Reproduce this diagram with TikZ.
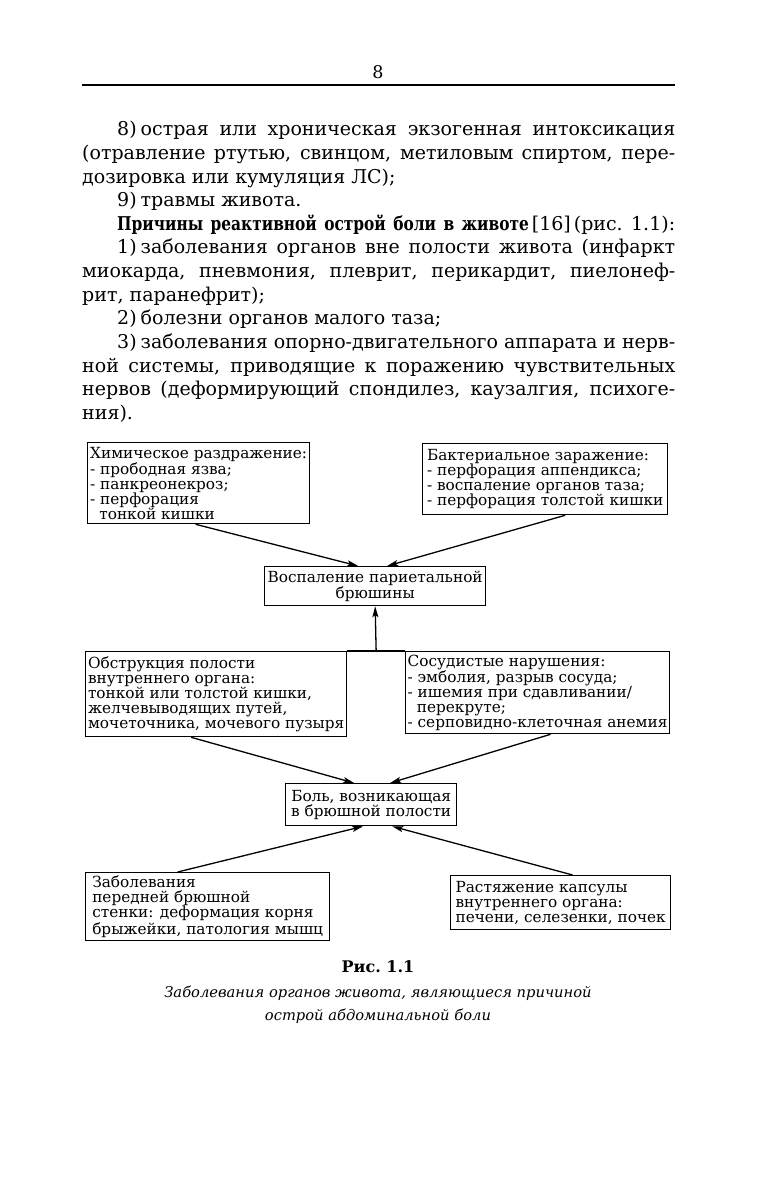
\documentclass[tikz,border=0pt]{standalone}
\usepackage{fontspec}
\setmainfont{DejaVu Serif}
\newfontfamily\condserif{DejaVu Serif Condensed}[FakeStretch=0.9]
\usetikzlibrary{arrows.meta,calc}
\tikzset{
  bx/.style={draw, line width=1.3pt, inner xsep=2pt, inner ysep=2pt, anchor=north west,
    font=\fontsize{15.3}{15}\selectfont, align=left},
  bxc/.style={bx, align=center},
  body/.style={anchor=base west, inner sep=0pt, font=\fontsize{19}{24}\selectfont},
  arr/.style={line width=1.3pt, -{Stealth[length=11pt,width=6pt,inset=2.5pt]}},
  ln/.style={line width=1.3pt}
}
\newcommand{\fullline}[1]{\makebox[593pt][s]{#1}}
\newcommand{\indline}[1]{\makebox[558pt][s]{#1}}
\begin{document}
\begin{tikzpicture}[x=1pt,y=-1pt]
\fill[white] (0,0) rectangle (757,1182);
\useasboundingbox (0,0) rectangle (757,1182);
% header
\node[anchor=base, inner sep=0pt, font=\fontsize{17.5}{20}\selectfont] (pg) at (378,78.5) {8};
\coordinate (rl) at (82,85);
\coordinate (rr) at (675,85);
\draw[line width=1.2pt] (rl) -- (rr);
% body text
\node[body] (t1) at (117,136) {\indline{8)\hspace{4pt}острая или хроническая экзогенная интоксикация}};
\node[body] (t2) at (82,159.6) {\fullline{(отравление ртутью, свинцом, метиловым спиртом, пере-}};
\node[body] (t3) at (82,183.2) {дозировка или кумуляция ЛС);};
\node[body] (t4) at (117,206.8) {9)\hspace{4pt}травмы живота.};
\node[body] (t5) at (117,230.4) {\indline{{\condserif\bfseries Причины реактивной острой боли в животе}\hspace{3pt}[16]\hspace{3pt}(рис.~1.1):}};
\node[body] (t6) at (117,254) {\indline{1)\hspace{4pt}заболевания органов вне полости живота (инфаркт}};
\node[body] (t7) at (82,277.6) {\fullline{миокарда, пневмония, плеврит, перикардит, пиелонеф-}};
\node[body] (t8) at (82,301.2) {рит, паранефрит);};
\node[body] (t9) at (117,324.8) {2)\hspace{4pt}болезни органов малого таза;};
\node[body] (t10) at (117,348.4) {\indline{3)\hspace{4pt}заболевания опорно-двигательного аппарата и нерв-}};
\node[body] (t11) at (82,372) {\fullline{ной системы, приводящие к поражению чувствительных}};
\node[body] (t12) at (82,395.6) {\fullline{нервов (деформирующий спондилез, каузалгия, психоге-}};
\node[body] (t13) at (82,419.2) {ния).};
% boxes
\node[bx, minimum width=222pt, minimum height=81pt] (b1) at (87,442)
  {Химическое раздражение:\\- прободная язва;\\- панкреонекроз;\\- перфорация\\\hspace*{0.6em}тонкой кишки};
\node[bx, minimum width=245pt, minimum height=71pt] (b2) at (422,443)
  {Бактериальное заражение:\\- перфорация аппендикса;\\- воспаление органов таза;\\- перфорация толстой кишки};
\node[bxc, minimum width=221pt, minimum height=39pt] (b3) at (264,566)
  {Воспаление париетальной\\брюшины};
\node[bx, minimum width=261pt, minimum height=85pt] (b4) at (85,651)
  {Обструкция полости\\внутреннего органа:\\тонкой или толстой кишки,\\желчевыводящих путей,\\мочеточника, мочевого пузыря};
\node[bx, minimum width=263pt, minimum height=82pt] (b5) at (405,651)
  {Сосудистые нарушения:\\- эмболия, разрыв сосуда;\\- ишемия при сдавливании/\\\hspace*{0.6em}перекруте;\\- серповидно-клеточная анемия};
\node[bxc, minimum width=171pt, minimum height=42pt] (b6) at (285,783)
  {Боль, возникающая\\в брюшной полости};
\node[bx, minimum width=244pt, minimum height=68pt] (b7) at (85,872)
  {Заболевания\\передней брюшной\\стенки: деформация корня\\брыжейки, патология мышц};
\node[bx, minimum width=220pt, minimum height=54pt] (b8) at (450,875)
  {Растяжение капсулы\\внутреннего органа:\\печени, селезенки, почек};
% connectors
\draw[arr] ($(b1.south)+(-3,0)$) -- ($(b3.north)+(-17,0)$);
\draw[arr] ($(b2.south)+(20,0)$) -- ($(b3.north)+(12,0)$);
\draw[ln] (b4.north east) -- (b5.north west);
\draw[arr] ($(b4.north east)!0.5!(b5.north west)$) -- (b3.south);
\draw[arr] ($(b4.south)+(-25,0)$) -- ($(b6.north)+(-17,0)$);
\draw[arr] ($(b5.south)+(13,0)$) -- ($(b6.north)+(19,0)$);
\draw[arr] ($(b7.north)+(-30,0)$) -- ($(b6.south)+(-8,0)$);
\draw[arr] ($(b8.north)+(12,0)$) -- ($(b6.south)+(21,0)$);
% caption
\node[anchor=base, inner sep=0pt, font=\fontsize{16}{18}\bfseries] (cap) at (378,972) {Рис.~1.1};
\node[anchor=base, inner sep=0pt, font=\fontsize{14.7}{23}\itshape] (c1) at (378,997) {Заболевания органов живота, являющиеся причиной};
\node[anchor=base, inner sep=0pt, font=\fontsize{14.7}{23}\itshape] (c2) at (378,1020) {острой абдоминальной боли};
\end{tikzpicture}
\end{document}
